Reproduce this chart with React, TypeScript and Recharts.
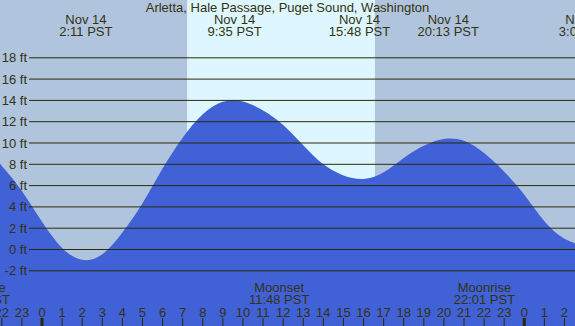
import React from 'react';
import { ComposedChart, Area, XAxis, YAxis, ReferenceArea, ReferenceLine } from 'recharts';

const TITLE = 'Arletta, Hale Passage, Puget Sound, Washington';

// hours relative to Nov 14 00:00 PST, tide height in feet
const hours = [-3, -2, -1, 0, 1, 2, 3, 4, 5, 6, 7, 8, 9, 10, 11, 12, 13, 14, 15, 16, 17, 18, 19, 20, 21, 22, 23, 24, 25, 26, 27];
const tideFt = [9.9, 7.85, 5.5, 2.6, 0.15, -0.97, -0.45, 1.6, 4.35, 7.6, 10.5, 12.7, 13.88, 13.9, 13.05, 11.7, 9.8, 8.0, 6.95, 6.62, 7.25, 8.6, 9.75, 10.38, 10.2, 9.05, 7.3, 5.15, 2.65, 1.0, 0.35];

const heightTicks = [18, 16, 14, 12, 10, 8, 6, 4, 2, 0, -2];
const hourTicks = [-2, -1, 0, 1, 2, 3, 4, 5, 6, 7, 8, 9, 10, 11, 12, 13, 14, 15, 16, 17, 18, 19, 20, 21, 22, 23, 24, 25, 26];

const eventHours = [2.183, 9.583, 15.8, 20.217, 27.067];
const eventDates = ['Nov 14', 'Nov 14', 'Nov 14', 'Nov 14', 'Nov 15'];
const eventTimes = ['2:11 PST', '9:35 PST', '15:48 PST', '20:13 PST', '3:04 PST'];

const moonHours = [-3.13, 11.8, 22.017];
const moonNames = ['Moonrise', 'Moonset', 'Moonrise'];
const moonTimes = ['20:52 PST', '11:48 PST', '22:01 PST'];

const SUNRISE = 7.22;
const SUNSET = 16.57;

const X_MIN = -2.09;
const X_MAX = 26.523;
const Y_MIN = -7.183;
const Y_MAX = 23.427;

const W = 575;
const H = 326;
const FONT = '"Liberation Sans", Arial, sans-serif';
const TEXT = '#333310';
const LINE = '#2a2a08';
const NIGHT = '#B0C4DE';
const DAY = '#DDF6FF';
const TIDE = '#4161D6';

const data = hours.map((h, i) => ({ h, ft: tideFt[i] }));

const GridLabel = (props: any) => {
  const vb = props.viewBox || {};
  const y = vb.y;
  const x0 = vb.x;
  const w = vb.width;
  const v = props.value;
  return (
    <g>
      <line x1={x0 + 29} x2={x0 + w} y1={y} y2={y} stroke={LINE} strokeWidth={1} />
      <text x={x0 + 27} y={y + 4.6} textAnchor="end" fontSize={13} fontFamily={FONT} fill={TEXT}>
        {v}
      </text>
    </g>
  );
};

const TopLabel = (props: any) => {
  const vb = props.viewBox || {};
  const x = vb.x;
  const [d, t] = String(props.value).split('|');
  return (
    <g>
      <text x={x} y={24} textAnchor="middle" fontSize={13} fontFamily={FONT} fill={TEXT}>{d}</text>
      <text x={x} y={36.3} textAnchor="middle" fontSize={13} fontFamily={FONT} fill={TEXT}>{t}</text>
    </g>
  );
};

const MoonLabel = (props: any) => {
  const vb = props.viewBox || {};
  const x = vb.x;
  const [n, t] = String(props.value).split('|');
  return (
    <g>
      <text x={x} y={291.5} textAnchor="middle" fontSize={13} fontFamily={FONT} fill={TEXT}>{n}</text>
      <text x={x} y={304.3} textAnchor="middle" fontSize={13} fontFamily={FONT} fill={TEXT}>{t}</text>
    </g>
  );
};

const HourLabel = (props: any) => {
  const vb = props.viewBox || {};
  const x = vb.x;
  const h = Number(props.value);
  const lbl = ((h % 24) + 24) % 24;
  const midnight = lbl === 0;
  return (
    <g>
      <line x1={x} x2={x} y1={318} y2={326} stroke={LINE} strokeWidth={midnight ? 3 : 1} />
      <text x={x} y={316.6} textAnchor="middle" fontSize={13} fontFamily={FONT} fill={TEXT}>{String(lbl)}</text>
    </g>
  );
};

export default function App() {
  return (
    <div style={{ position: 'absolute', left: 0, top: 0, width: W, height: H, background: NIGHT, overflow: 'hidden' }}>
      <ComposedChart width={W} height={H} data={data} margin={{ top: 0, right: 0, bottom: 0, left: 0 }}>
        <XAxis dataKey="h" type="number" domain={[X_MIN, X_MAX]} allowDataOverflow hide />
        <YAxis type="number" domain={[Y_MIN, Y_MAX]} allowDataOverflow hide />
        <ReferenceArea x1={SUNRISE} x2={SUNSET} fill={DAY} fillOpacity={1} stroke="none" zIndex={-10} />
        <Area
          type="natural"
          dataKey="ft"
          stroke="none"
          fill={TIDE}
          fillOpacity={1}
          baseValue={Y_MIN}
          isAnimationActive={false}
          dot={false}
          activeDot={false}
        />
        {heightTicks.map((v) => (
          <ReferenceLine
            key={'g' + v}
            y={v}
            stroke="none"
            ifOverflow="visible"
            label={<GridLabel value={`${v} ft`} />}
          />
        ))}
        {eventHours.map((h, i) => (
          <ReferenceLine
            key={'e' + i}
            x={h}
            stroke="none"
            ifOverflow="visible"
            label={<TopLabel value={`${eventDates[i]}|${eventTimes[i]}`} />}
          />
        ))}
        {moonHours.map((h, i) => (
          <ReferenceLine
            key={'m' + i}
            x={h}
            stroke="none"
            ifOverflow="visible"
            label={<MoonLabel value={`${moonNames[i]}|${moonTimes[i]}`} />}
          />
        ))}
        {hourTicks.map((h) => (
          <ReferenceLine
            key={'h' + h}
            x={h}
            stroke="none"
            ifOverflow="visible"
            label={<HourLabel value={h} />}
          />
        ))}
      </ComposedChart>
      <div
        style={{
          position: 'absolute',
          left: 0,
          top: 0,
          width: W,
          textAlign: 'center',
          fontFamily: FONT,
          fontSize: 13,
          lineHeight: '15px',
          color: TEXT,
          pointerEvents: 'none',
        }}
      >
        {TITLE}
      </div>
    </div>
  );
}
